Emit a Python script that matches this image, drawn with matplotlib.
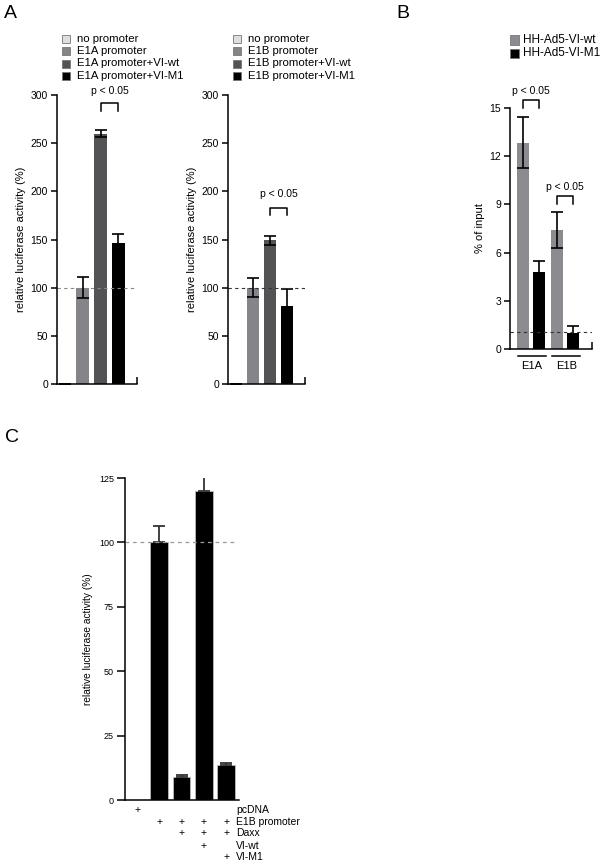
import numpy as np
import matplotlib
matplotlib.use("Agg")
import matplotlib.pyplot as plt
from matplotlib.patches import Rectangle
from matplotlib import transforms

plt.rcParams['font.family'] = ['Liberation Sans', 'DejaVu Sans']

W, H = 603, 865

# ---- data ----
a1_labels = ["no promoter", "E1A promoter", "E1A promoter+VI-wt", "E1A promoter+VI-M1"]
a1_vals = [0, 100, 260, 146]
a1_err = [0, 11, 4, 10]

a2_labels = ["no promoter", "E1B promoter", "E1B promoter+VI-wt", "E1B promoter+VI-M1"]
a2_vals = [0, 100, 149, 81]
a2_err = [0, 10, 5, 18]

a_colors = ["#dedede", "#858589", "#535356", "#000000"]

b_groups = ["E1A", "E1B"]
b_series = ["HH-Ad5-VI-wt", "HH-Ad5-VI-M1"]
b_wt = [12.85, 7.4]
b_wt_err = [1.6, 1.1]
b_m1 = [4.8, 1.0]
b_m1_err = [0.65, 0.45]
b_colors = ["#8c8c90", "#000000"]

c_vals = [0, 100, 9, 120, 13.5]
c_err = [0, 6.5, 0.8, 8, 0.8]
c_rows = ["pcDNA", "E1B promoter", "Daxx", "VI-wt", "VI-M1"]
c_marks = [[1, 0, 0, 0, 0],
           [0, 1, 1, 1, 1],
           [0, 0, 1, 1, 1],
           [0, 0, 0, 1, 0],
           [0, 0, 0, 0, 1]]


def px_axes(x0, y_top, x1, y_bot):
    return fig.add_axes([x0 / W, 1 - y_bot / H, (x1 - x0) / W, (y_bot - y_top) / H])


def style_axes(ax, tick_len=4.5):
    for s in ["top", "right"]:
        ax.spines[s].set_visible(False)
    for s in ["left", "bottom"]:
        ax.spines[s].set_linewidth(1.1)
    ax.tick_params(axis="y", direction="out", length=tick_len, width=1.1, labelsize=7.5, pad=2)


def legend_px(x_sq, x_txt, ys, labels, colors, size=8, sq=8):
    for y, lab, col in zip(ys, labels, colors):
        fig.add_artist(Rectangle((x_sq / W, 1 - (y + sq / 2) / H), sq / W, sq / H,
                                 transform=fig.transFigure, facecolor=col,
                                 edgecolor="#777777", linewidth=0.6))
        fig.text(x_txt / W, 1 - y / H, lab, fontsize=size, va="center", ha="left")


fig = plt.figure(figsize=(W / 100, H / 100), dpi=100)

# ---- panel A ----
a_pos = np.arange(4)
for (x0, x1, vals, errs, labels, dash_col, brk) in [
        (57, 137, a1_vals, a1_err, a1_labels, "#888888", (292, 283, 299)),
        (228, 305, a2_vals, a2_err, a2_labels, "#333333", (183, 175, 192))]:
    ax = px_axes(x0, 95, x1, 384)
    ax.bar(a_pos, vals, width=0.72, color=a_colors, yerr=errs, capsize=4,
           error_kw=dict(elinewidth=1.2, capthick=1.2, ecolor="black"))
    ax.axhline(100, color=dash_col, linestyle=(0, (3, 3)), linewidth=0.8)
    ax.set_xlim(-0.45, 4.05)
    ax.set_ylim(0, 300)
    ax.set_yticks([0, 50, 100, 150, 200, 250, 300])
    ax.set_xticks([4.05])
    ax.set_xticklabels([])
    ax.tick_params(axis="x", direction="in", length=5, width=1.1)
    style_axes(ax)
    ax.set_ylabel("relative luciferase activity (%)", fontsize=8, labelpad=3)
    top, bot, txt = brk
    ax.plot([2, 2, 3, 3], [bot, top, top, bot], color="black", linewidth=1.1, clip_on=False)
    ax.text(2.5, txt, "p < 0.05", fontsize=7.5, ha="center", va="bottom")
    legend_px(x0 + 5, x0 + 20, [38.5, 51, 63.5, 76], labels, a_colors, size=8.2)

# ---- panel B ----
axb = px_axes(510, 108, 592, 349)
gpos = np.arange(2)
off = 0.235
axb.bar(gpos - off, b_wt, width=0.34, color=b_colors[0], yerr=b_wt_err, capsize=4,
        error_kw=dict(elinewidth=1.2, capthick=1.2, ecolor="black"))
axb.bar(gpos + off, b_m1, width=0.34, color=b_colors[1], yerr=b_m1_err, capsize=4,
        error_kw=dict(elinewidth=1.2, capthick=1.2, ecolor="black"))
axb.axhline(1.05, color="#333333", linestyle=(0, (3, 3)), linewidth=0.8)
axb.set_xlim(-0.62, 1.79)
axb.set_ylim(0, 15)
axb.set_yticks([0, 3, 6, 9, 12, 15])
axb.set_xticks([1.79])
axb.set_xticklabels([])
axb.tick_params(axis="x", direction="in", length=5, width=1.1)
style_axes(axb)
axb.set_ylabel("% of input", fontsize=8, labelpad=3)
for g, (top, bot, txt) in zip(gpos, [(15.5, 15.0, 15.75), (9.5, 9.05, 9.75)]):
    axb.plot([g - off, g - off, g + off, g + off], [bot, top, top, bot],
             color="black", linewidth=1.1, clip_on=False)
    axb.text(g, txt, "p < 0.05", fontsize=7.5, ha="center", va="bottom")
    axb.plot([g - 0.38, g + 0.45], [-0.45, -0.45], color="black", linewidth=1.1, clip_on=False)
    axb.text(g + 0.03, -0.75, b_groups[g], fontsize=8, ha="center", va="top")
legend_px(510, 523, [40, 53.3], b_series, b_colors, size=8.5, sq=9)

# ---- panel C ----
axc = px_axes(125, 478, 239, 800)
cpos = np.arange(5)
axc.bar(cpos, c_vals, width=0.79, color="black", edgecolor="#bbbbbb", linewidth=0.6)
axc.errorbar(cpos[1:], c_vals[1:], yerr=[np.zeros(4), c_err[1:]], fmt="none",
             ecolor="#333333", elinewidth=1.3, capsize=4, capthick=1.3)
axc.axhline(100, color="#999999", linestyle=(0, (3, 3)), linewidth=0.9, xmax=0.98)
axc.set_xlim(-0.54, 4.58)
axc.set_ylim(0, 125)
axc.set_yticks([0, 25, 50, 75, 100, 125])
axc.set_xticks([])
style_axes(axc, tick_len=6)
axc.tick_params(axis="y", labelsize=6.5)
axc.set_ylabel("relative luciferase activity (%)", fontsize=7.3, labelpad=4)
tr = transforms.blended_transform_factory(axc.transData, fig.transFigure)
row_y = [810, 821.7, 833, 846, 857]
for r, (name, marks) in enumerate(zip(c_rows, c_marks)):
    fy = 1 - row_y[r] / H
    for i, m in enumerate(marks):
        if m:
            axc.text(cpos[i], fy, "+", fontsize=7.5, ha="center", va="center",
                     transform=tr, clip_on=False)
    axc.text(4.45, fy, name, fontsize=7.5, ha="left", va="center", transform=tr, clip_on=False)

# panel letters
fig.text(4 / W, 1 - 13 / H, "A", fontsize=14, va="center", ha="left")
fig.text(396 / W, 1 - 13 / H, "B", fontsize=14, va="center", ha="left")
fig.text(5 / W, 1 - 438 / H, "C", fontsize=14, va="center", ha="left")

fig.savefig("out.png", dpi=100)
